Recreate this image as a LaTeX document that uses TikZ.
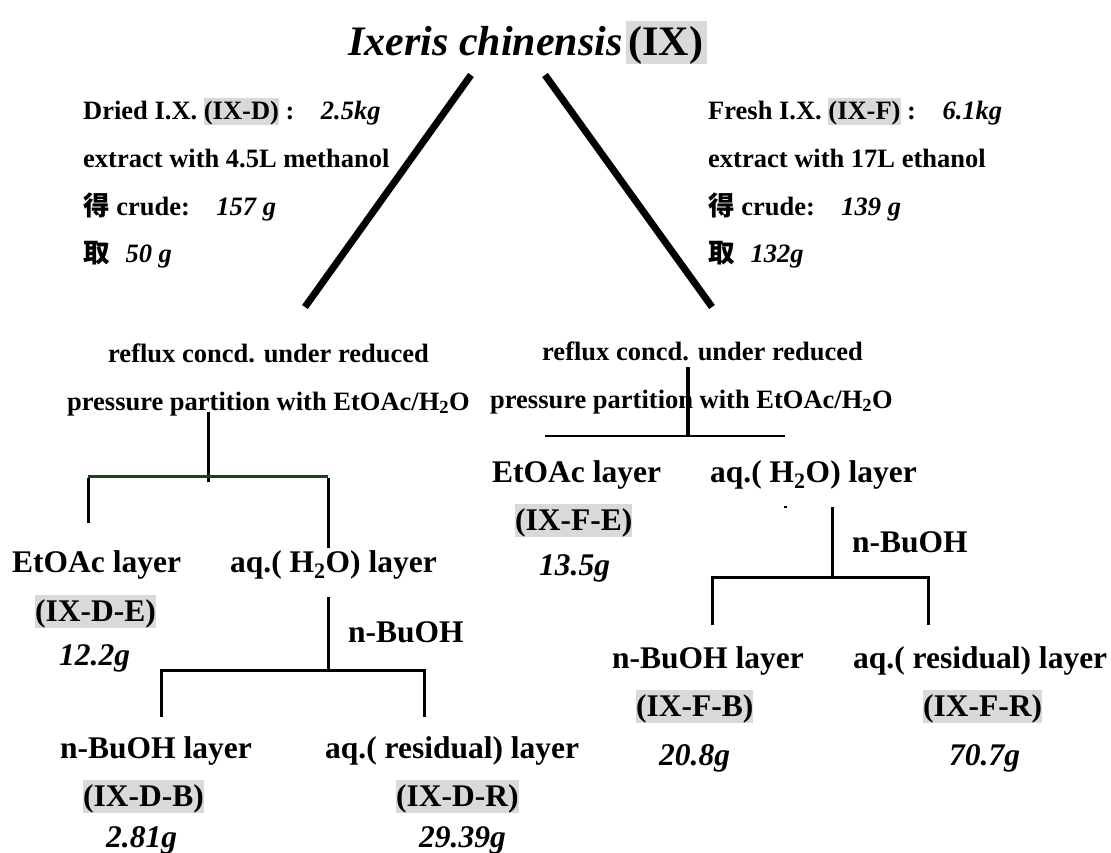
\documentclass[tikz,border=0pt]{standalone}
\usepackage{fontspec}
\setmainfont{Liberation Serif}
\newfontfamily\cjk{Noto Sans CJK TC}
\definecolor{hlgray}{RGB}{217,217,217}
\definecolor{dkgreen}{RGB}{25,70,25}
\newcommand\hlbox[1]{{\setlength\fboxsep{0pt}\colorbox{hlgray}{\rule[-0.19em]{0pt}{1.0em}#1}}}
\begin{document}
\begin{tikzpicture}[x=1pt,y=-1pt,
  sm/.style={font=\fontsize{26.5}{30}\selectfont\bfseries, inner sep=0pt, anchor=base west},
  lg/.style={font=\fontsize{31.5}{36}\selectfont\bfseries, inner sep=0pt, anchor=base west},
  ttl/.style={font=\fontsize{42}{48}\selectfont\bfseries, inner sep=0pt, anchor=base west},
  diag/.style={line width=7pt},
  tree/.style={line width=3pt},
  treethin/.style={line width=2.5pt},
]
\useasboundingbox (0,0) rectangle (1111,852);

% title
\node[ttl] (title) at (348,55) {\textit{Ixeris chinensis}\hspace{4pt}\hlbox{\hspace{2pt}(IX)\hspace{4pt}}};

% left block
\node[sm] (d1) at (83,119) {Dried I.X. \hlbox{(IX-D)} :\hspace{1em}\textit{2.5kg}};
\node[sm] (d2) at (83,167) {extract with 4.5L methanol};
\node[sm] (d3) at (83,215) {{\cjk 得} crude:\hspace{1em}\textit{157 g}};
\node[sm] (d4) at (83,262) {{\cjk 取}\hspace{0.6em}\textit{50 g}};

% right block
\node[sm] (f1) at (708,119) {Fresh I.X. \hlbox{(IX-F)} :\hspace{1em}\textit{6.1kg}};
\node[sm] (f2) at (708,167) {extract with 17L ethanol};
\node[sm] (f3) at (708,215) {{\cjk 得} crude:\hspace{1em}\textit{139 g}};
\node[sm] (f4) at (708,262) {{\cjk 取}\hspace{0.6em}\textit{132g}};

% diagonals
\coordinate (dlt) at (471,75);
\coordinate (dlb) at (305,307);
\coordinate (drt) at (545,75);
\coordinate (drb) at (712,307);
\draw[diag] (dlt) -- (dlb);
\draw[diag] (drt) -- (drb);

% reflux texts
\node[sm] (lr1) at (108,362) {reflux concd. under reduced};
\node[sm] (lr2) at (67,410) {pressure partition with EtOAc/H\textsubscript{2}O};
\node[sm] (rr1) at (542,360) {reflux concd. under reduced};
\node[sm] (rr2) at (490,408) {pressure partition with EtOAc/H\textsubscript{2}O};

% ---------- left tree ----------
\coordinate (la) at (208,412);
\coordinate (lb) at (208,482);
\coordinate (lh1) at (88,476);
\coordinate (lh2) at (328,476);
\coordinate (lh1b) at (88,523);
\coordinate (lh2b) at (328,548);
\draw[tree] (la) -- (lb);
\draw[tree, dkgreen] (lh1) -- (lh2);
\draw[tree] ([yshift=-1.5pt]lh1) -- (lh1b);
\draw[tree] ([yshift=-1.5pt]lh2) -- (lh2b);

\node[lg] (dE) at (12,572) {EtOAc layer};
\node[lg] (dA) at (230,572) {aq.( H\textsubscript{2}O) layer};
\node[lg] (dEc) at (35,621) {\hlbox{(IX-D-E)}};
\node[lg] (dEw) at (59,665) {\textit{12.2g}};

\coordinate (lc) at (328,597);
\coordinate (lcb) at (328,670);
\coordinate (lk1) at (161,670);
\coordinate (lk2) at (424,670);
\coordinate (lk1b) at (161,717);
\coordinate (lk2b) at (424,717);
\draw[tree] (lc) -- (lcb);
\draw[tree] (lk1b) -- (lk1) -- (lk2) -- (lk2b);
\node[lg] (dBu) at (348,642) {n-BuOH};

\node[lg] (dB) at (60,758) {n-BuOH layer};
\node[lg] (dR) at (325,758) {aq.( residual) layer};
\node[lg] (dBc) at (83,806) {\hlbox{(IX-D-B)}};
\node[lg] (dRc) at (396,806) {\hlbox{(IX-D-R)}};
\node[lg] (dBw) at (106,847) {\textit{2.81g}};
\node[lg] (dRw) at (419,847) {\textit{29.39g}};

% ---------- right tree ----------
\coordinate (ra) at (688,367);
\coordinate (rb) at (688,436);
\coordinate (rh1) at (545,436);
\coordinate (rh2) at (785,436);
\draw[line width=3.5pt] (ra) -- (rb);
\draw[treethin] (rh1) -- (rh2);

\node[lg] (fE) at (492,482) {EtOAc layer};
\node[lg] (fA) at (710,482) {aq.( H\textsubscript{2}O) layer};
\node[lg] (fEc) at (515,530) {\hlbox{(IX-F-E)}};
\node[lg] (fEw) at (539,575) {\textit{13.5g}};

\coordinate (rdot1) at (784,507);
\coordinate (rdot2) at (787,507);
\draw[line width=1.2pt] (rdot1) -- (rdot2);

\coordinate (rc) at (832,507);
\coordinate (rcb) at (832,577);
\coordinate (rk1) at (712,577);
\coordinate (rk2) at (928,577);
\coordinate (rk1b) at (712,625);
\coordinate (rk2b) at (928,625);
\draw[tree] (rc) -- (rcb);
\draw[tree] (rk1b) -- (rk1) -- (rk2) -- (rk2b);
\node[lg] (fBu) at (852,552) {n-BuOH};

\node[lg] (fB) at (612,668) {n-BuOH layer};
\node[lg] (fR) at (853,668) {aq.( residual) layer};
\node[lg] (fBc) at (636,716) {\hlbox{(IX-F-B)}};
\node[lg] (fRc) at (923,716) {\hlbox{(IX-F-R)}};
\node[lg] (fBw) at (659,765) {\textit{20.8g}};
\node[lg] (fRw) at (949,765) {\textit{70.7g}};
\end{tikzpicture}
\end{document}
